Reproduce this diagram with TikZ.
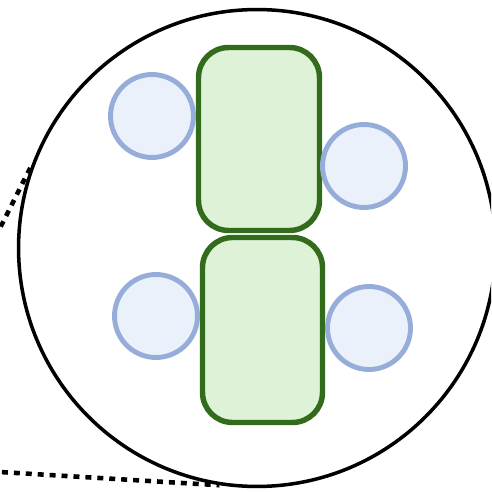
\documentclass[tikz,border=0pt]{standalone}
\usetikzlibrary{positioning}
\definecolor{seatline}{HTML}{96ADD9}
\definecolor{seatfill}{HTML}{EAF1FB}
\definecolor{tableline}{HTML}{336B1C}
\definecolor{tablefill}{HTML}{DDF2D6}
\tikzset{
  seat/.style={circle, draw=seatline, fill=seatfill, line width=2.8pt, inner sep=0pt, minimum size=1.66cm},
  table/.style={rectangle, rounded corners=0.6cm, draw=tableline, fill=tablefill, line width=3.1pt, inner sep=0pt, minimum width=2.42cm},
  zoomline/.style={line width=2.6pt, dash pattern=on 3.4pt off 3.4pt}
}
\begin{document}
\begin{tikzpicture}[x=0.02cm,y=-0.02cm]
        \useasboundingbox (0,0) rectangle (491,492);
        \clip (0,0) rectangle (491,492);
        \node[circle, draw, line width=2pt, inner sep=0pt, minimum size=9.54cm] (zoom) at (257,248) {};
        \coordinate (Z1) at (-10,248);
        \coordinate (Z2) at (-10,471.4);
        \draw[zoomline] (Z1) to (zoom.160.6);
        \draw[zoomline] (Z2) to (zoom.261.4);
        \node[table, minimum height=3.66cm] (T1) at (259,139) {};
        \node[table, minimum width=2.4cm, minimum height=3.7cm] (T2) at (262.5,330) {};
        \node[seat] (S1) at (152,116) {};
        \node[seat] (S2) at (364,166) {};
        \node[seat] (S3) at (156,316) {};
        \node[seat] (S4) at (369,328) {};
    \end{tikzpicture}
\end{document}
